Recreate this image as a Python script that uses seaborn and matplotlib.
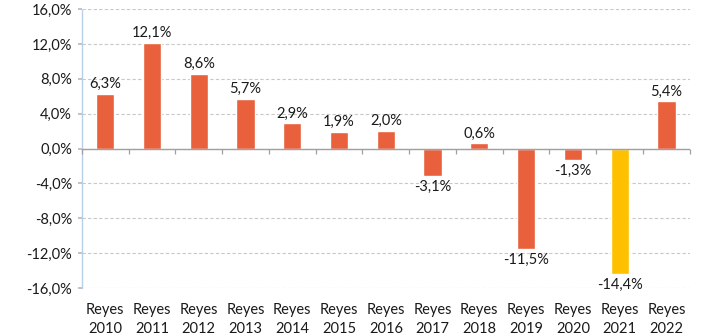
import matplotlib
matplotlib.use("Agg")
import matplotlib.pyplot as plt
import seaborn as sns
import pandas as pd
import numpy as np

categories = ["Reyes\n2010", "Reyes\n2011", "Reyes\n2012", "Reyes\n2013", "Reyes\n2014",
              "Reyes\n2015", "Reyes\n2016", "Reyes\n2017", "Reyes\n2018", "Reyes\n2019",
              "Reyes\n2020", "Reyes\n2021", "Reyes\n2022"]
values = [6.3, 12.1, 8.6, 5.7, 2.9, 1.9, 2.0, -3.1, 0.6, -11.5, -1.3, -14.4, 5.4]
highlight = "Reyes\n2021"
yticks = [16, 12, 8, 4, 0, -4, -8, -12, -16]

sns.set_theme(style="white")
plt.rcParams['font.family'] = ['Lato', 'DejaVu Sans']

df = pd.DataFrame({"cat": categories, "val": values})
palette = {c: ("#FFC000" if c == highlight else "#E8603C") for c in categories}

fig = plt.figure(figsize=(7.06, 3.35), dpi=100)
ax = fig.add_axes([0.116, 0.140, 0.861, 0.833])
sns.barplot(data=df, x="cat", y="val", hue="cat", palette=palette, legend=False,
            width=0.39, ax=ax, saturation=1)

ax.set_ylim(-16, 16)
ax.set_xlim(-0.5, len(categories) - 0.5)
ax.set_yticks(yticks)
ax.set_yticklabels([f"{t:.1f}%".replace(".", ",") for t in yticks], fontsize=10.5, color="#1a1a1a")
ax.set_xticks(range(len(categories)))
ax.set_xticklabels(categories, fontsize=10.5, color="#1a1a1a", linespacing=1.45)
ax.tick_params(axis="x", length=0, pad=11)
ax.tick_params(axis="y", length=3, color="#bbbbbb", pad=4, left=True)
ax.set_xlabel("")
ax.set_ylabel("")

ax.yaxis.grid(True, linestyle=(0, (3, 2)), color="#c8c8c8", linewidth=0.8)
ax.set_axisbelow(True)
for s in ["top", "right", "bottom"]:
    ax.spines[s].set_visible(False)
ax.spines["left"].set_color("#b8cfe8")
ax.spines["left"].set_linestyle((0, (2, 1)))
ax.spines["left"].set_linewidth(1.0)

# zero axis line with category boundary ticks
ax.axhline(0, color="#a0a0a0", linewidth=1.0, zorder=3)
bounds = np.arange(len(categories) + 1) - 0.5
ax.vlines(bounds, -0.6, 0, color="#a0a0a0", linewidth=0.9, zorder=3, clip_on=False)

for i, v in enumerate(values):
    lab = f"{v:.1f}%".replace(".", ",")
    if v >= 0:
        ax.annotate(lab, (i, v), xytext=(0, 2), textcoords="offset points",
                    ha="center", va="bottom", fontsize=10.5, color="#1a1a1a")
    else:
        ax.annotate(lab, (i, v), xytext=(0, -3), textcoords="offset points",
                    ha="center", va="top", fontsize=10.5, color="#1a1a1a")

fig.savefig("out.png", dpi=100)
